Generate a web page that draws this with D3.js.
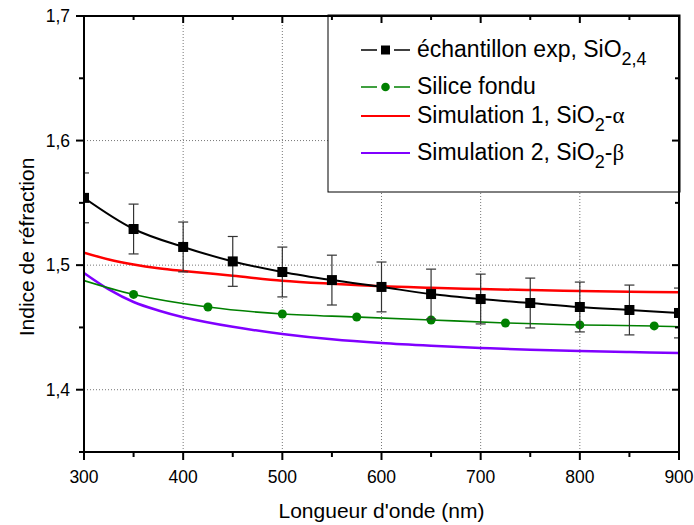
<!DOCTYPE html>
<html><head><meta charset="utf-8">
<script src="https://cdn.jsdelivr.net/npm/d3@7"></script>
<style>body{margin:0;background:#fff;} svg{display:block;font-family:"Liberation Sans",Arial,sans-serif;}</style>
</head><body><svg id="c" width="694" height="525"></svg>
<script>
// ---- data ----
const expX = [300,350,400,450,500,550,600,650,700,750,800,850,900];
const expY = [1.554,1.529,1.5146,1.503,1.4945,1.488,1.4825,1.4768,1.4728,1.4696,1.4664,1.464,1.4616];
const expErr = [0.02,0.02,0.02,0.02,0.02,0.02,0.02,0.02,0.02,0.02,0.02,0.02,0.02];
const silX = [350,425,500,575,650,725,800,875];
const silY = [1.4765,1.4664,1.4608,1.4584,1.456,1.4536,1.452,1.4512];
const silCurveX = [300,350,425,500,575,650,725,800,875,900];
const silCurveY = [1.4876,1.4765,1.4664,1.4608,1.4584,1.456,1.4536,1.452,1.4512,1.4505];
const simX = [300,325,350,375,400,450,500,550,600,650,700,750,800,850,900];
const sim1Y = [1.510,1.5045,1.5005,1.4975,1.4953,1.4915,1.4875,1.485,1.483,1.4818,1.4808,1.480,1.4793,1.4787,1.4782];
const sim2Y = [1.4937,1.4805,1.4704,1.4636,1.4582,1.4505,1.4448,1.4405,1.4375,1.4353,1.4335,1.432,1.431,1.4302,1.4295];
const xMajor = [300,400,500,600,700,800,900];
const xMinor = [350,450,550,650,750,850];
const yMajor = [1.4,1.5,1.6,1.7];
const yMinor = [1.35,1.45,1.55,1.65];
const xGrid = [400,500,600,700,800];
const yGrid = [1.4,1.5,1.6];

const L=84,R=679,T=16,B=452;
const svg=d3.select("#c");
const x=d3.scaleLinear().domain([300,900]).range([L,R]);
const y=d3.scaleLinear().domain([1.35,1.7]).range([B,T]);
const fmt=d=>String(d).replace(".",",");

svg.append("defs").append("clipPath").attr("id","clip").append("rect")
  .attr("x",L).attr("y",T).attr("width",R-L).attr("height",B-T);

// grid
const g=svg.append("g");
g.selectAll(".gx").data(xGrid).join("line").attr("x1",d=>x(d)).attr("x2",d=>x(d)).attr("y1",T).attr("y2",B)
  .attr("stroke","#777").attr("stroke-width",1).attr("stroke-dasharray","1,2");
g.selectAll(".gy").data(yGrid).join("line").attr("y1",d=>y(d)).attr("y2",d=>y(d)).attr("x1",L).attr("x2",R)
  .attr("stroke","#777").attr("stroke-width",1).attr("stroke-dasharray","1,2");

const plot=svg.append("g").attr("clip-path","url(#clip)");
const line=d3.line().curve(d3.curveCatmullRom.alpha(0.5));

plot.append("path").attr("d",line(simX.map((v,i)=>[x(v),y(sim2Y[i])]))).attr("fill","none").attr("stroke","#8000ff").attr("stroke-width",2.5);
plot.append("path").attr("d",line(simX.map((v,i)=>[x(v),y(sim1Y[i])]))).attr("fill","none").attr("stroke","#ff0000").attr("stroke-width",2.5);
plot.append("path").attr("d",line(silCurveX.map((v,i)=>[x(v),y(silCurveY[i])]))).attr("fill","none").attr("stroke","#008000").attr("stroke-width",1.6);
plot.selectAll(".sd").data(silX).join("circle").attr("cx",d=>x(d)).attr("cy",(d,i)=>y(silY[i])).attr("r",4.5).attr("fill","#008000");

plot.append("path").attr("d",line(expX.map((v,i)=>[x(v),y(expY[i])]))).attr("fill","none").attr("stroke","#000").attr("stroke-width",2);
const eb=plot.selectAll(".eb").data(expX).join("g").attr("stroke","#333").attr("stroke-width",1.2);
eb.append("line").attr("x1",d=>x(d)).attr("x2",d=>x(d)).attr("y1",(d,i)=>y(expY[i]-expErr[i])).attr("y2",(d,i)=>y(expY[i]+expErr[i]));
eb.append("line").attr("x1",d=>x(d)-5).attr("x2",d=>x(d)+5).attr("y1",(d,i)=>y(expY[i]-expErr[i])).attr("y2",(d,i)=>y(expY[i]-expErr[i]));
eb.append("line").attr("x1",d=>x(d)-5).attr("x2",d=>x(d)+5).attr("y1",(d,i)=>y(expY[i]+expErr[i])).attr("y2",(d,i)=>y(expY[i]+expErr[i]));
plot.selectAll(".sq").data(expX).join("rect").attr("x",d=>x(d)-5).attr("y",(d,i)=>y(expY[i])-5).attr("width",10).attr("height",10).attr("fill","#000");

// legend
const lg=svg.append("g");
lg.append("rect").attr("x",328).attr("y",15).attr("width",352).attr("height",177).attr("fill","#fff").attr("stroke","#000").attr("stroke-width",1);
const rows=[{ly:50,ty:57},{ly:87,ty:94},{ly:116,ty:123},{ly:153,ty:160}];
lg.append("line").attr("x1",361).attr("x2",377).attr("y1",rows[0].ly).attr("y2",rows[0].ly).attr("stroke","#000").attr("stroke-width",1.5);
lg.append("line").attr("x1",394).attr("x2",410).attr("y1",rows[0].ly).attr("y2",rows[0].ly).attr("stroke","#000").attr("stroke-width",1.5);
lg.append("rect").attr("x",381).attr("y",rows[0].ly-4.5).attr("width",9).attr("height",9).attr("fill","#000");
lg.append("line").attr("x1",361).attr("x2",377).attr("y1",rows[1].ly).attr("y2",rows[1].ly).attr("stroke","#008000").attr("stroke-width",1.5);
lg.append("line").attr("x1",394).attr("x2",410).attr("y1",rows[1].ly).attr("y2",rows[1].ly).attr("stroke","#008000").attr("stroke-width",1.5);
lg.append("circle").attr("cx",385.5).attr("cy",rows[1].ly).attr("r",4.3).attr("fill","#008000");
lg.append("line").attr("x1",361).attr("x2",410).attr("y1",rows[2].ly).attr("y2",rows[2].ly).attr("stroke","#ff0000").attr("stroke-width",2);
lg.append("line").attr("x1",361).attr("x2",410).attr("y1",rows[3].ly).attr("y2",rows[3].ly).attr("stroke","#8000ff").attr("stroke-width",2);

const fs=23, sfs=18, sdy=8;
let t=lg.append("text").attr("x",417).attr("y",rows[0].ty).attr("font-size",fs).attr("fill","#000");
t.append("tspan").text("échantillon exp, SiO");
t.append("tspan").attr("font-size",sfs).attr("dy",sdy).text("2,4");
lg.append("text").attr("x",417).attr("y",rows[1].ty).attr("font-size",fs).text("Silice fondu");
t=lg.append("text").attr("x",417).attr("y",rows[2].ty).attr("font-size",fs);
t.append("tspan").text("Simulation 1, SiO");
t.append("tspan").attr("font-size",sfs).attr("dy",sdy).text("2");
t.append("tspan").attr("dy",-sdy).text("-");
t.append("tspan").attr("font-family","Liberation Serif, serif").text("α");
t=lg.append("text").attr("x",417).attr("y",rows[3].ty).attr("font-size",fs);
t.append("tspan").text("Simulation 2, SiO");
t.append("tspan").attr("font-size",sfs).attr("dy",sdy).text("2");
t.append("tspan").attr("dy",-sdy).text("-");
t.append("tspan").attr("font-family","Liberation Serif, serif").text("β");

// axes
const ax=svg.append("g").attr("stroke","#000");
ax.append("rect").attr("x",L).attr("y",T).attr("width",R-L).attr("height",B-T).attr("fill","none").attr("stroke-width",2);
ax.selectAll(".bM").data(xMajor).join("line").attr("x1",d=>x(d)).attr("x2",d=>x(d)).attr("y1",B).attr("y2",B+8).attr("stroke-width",2);
ax.selectAll(".bm").data(xMinor).join("line").attr("x1",d=>x(d)).attr("x2",d=>x(d)).attr("y1",B).attr("y2",B+5).attr("stroke-width",2);
ax.selectAll(".tM").data(xMajor).join("line").attr("x1",d=>x(d)).attr("x2",d=>x(d)).attr("y1",T).attr("y2",T+7).attr("stroke-width",2);
ax.selectAll(".tm").data(xMinor).join("line").attr("x1",d=>x(d)).attr("x2",d=>x(d)).attr("y1",T).attr("y2",T+4).attr("stroke-width",2);
ax.selectAll(".lM").data(yMajor).join("line").attr("y1",d=>y(d)).attr("y2",d=>y(d)).attr("x1",L-8).attr("x2",L).attr("stroke-width",2);
ax.selectAll(".lm").data(yMinor).join("line").attr("y1",d=>y(d)).attr("y2",d=>y(d)).attr("x1",L-5).attr("x2",L).attr("stroke-width",2);
ax.selectAll(".rM").data(yMajor).join("line").attr("y1",d=>y(d)).attr("y2",d=>y(d)).attr("x1",R-7).attr("x2",R).attr("stroke-width",2);
ax.selectAll(".rm").data(yMinor).join("line").attr("y1",d=>y(d)).attr("y2",d=>y(d)).attr("x1",R-4).attr("x2",R).attr("stroke-width",2);

svg.selectAll(".xl").data(xMajor).join("text").attr("x",d=>x(d)).attr("y",B+31).attr("text-anchor","middle").attr("font-size",17.5).text(d=>d);
svg.selectAll(".yl").data(yMajor).join("text").attr("x",L-14).attr("y",d=>y(d)+6).attr("text-anchor","end").attr("font-size",17.5).text(d=>fmt(d));

svg.append("text").attr("x",(L+R)/2).attr("y",518).attr("text-anchor","middle").attr("font-size",21).text("Longueur d'onde (nm)");
svg.append("text").attr("transform",`translate(34,${(T+B)/2+13}) rotate(-90)`).attr("text-anchor","middle").attr("font-size",21).text("Indice de réfraction");
</script></body></html>
